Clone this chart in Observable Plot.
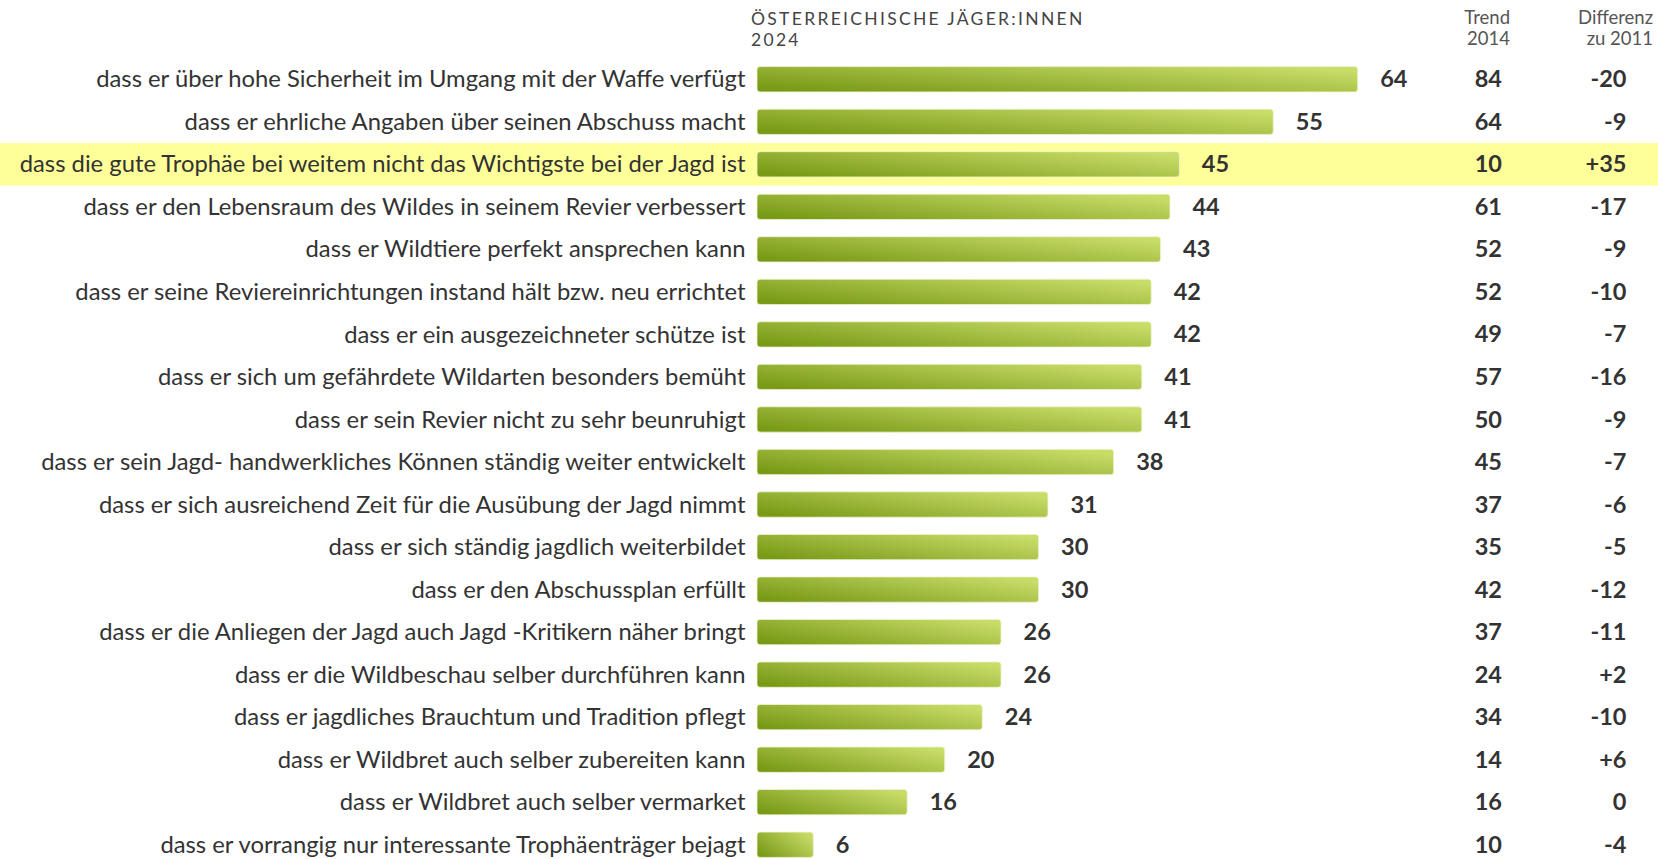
<!DOCTYPE html>
<html>
<head>
<meta charset="utf-8">
<script src="https://cdn.jsdelivr.net/npm/d3@7"></script>
<script src="https://cdn.jsdelivr.net/npm/@observablehq/plot@0.6"></script>
<style>
  html, body { margin: 0; padding: 0; background: #fff; }
  body { width: 1658px; height: 859px; overflow: hidden; position: relative; font-family: Lato, "Open Sans", sans-serif; }
  #chart { position: absolute; left: 0; top: 0; }
  .hdr { position: absolute; font-family: Lato, sans-serif; color: #555; font-size: 18.5px; line-height: 21px; white-space: nowrap; }
  #title { left: 751px; top: 7.5px; letter-spacing: 2.3px; color: #444; text-align: left; line-height: 21px; font-size: 17.5px; }
  #trend { right: 148px; top: 7px; text-align: right; }
  #diff { right: 5px; top: 7px; text-align: right; }
</style>
</head>
<body>
<div id="chart"></div>
<div class="hdr" id="title">ÖSTERREICHISCHE JÄGER:INNEN<br>2024</div>
<div class="hdr" id="trend">Trend<br>2014</div>
<div class="hdr" id="diff">Differenz<br>zu 2011</div>
<script>
const labels = [
  "dass er über hohe Sicherheit im Umgang mit der Waffe verfügt",
  "dass er ehrliche Angaben über seinen Abschuss macht",
  "dass die gute Trophäe bei weitem nicht das Wichtigste bei der Jagd ist",
  "dass er den Lebensraum des Wildes in seinem Revier verbessert",
  "dass er Wildtiere perfekt ansprechen kann",
  "dass er seine Reviereinrichtungen instand hält bzw. neu errichtet",
  "dass er ein ausgezeichneter schütze ist",
  "dass er sich um gefährdete Wildarten besonders bemüht",
  "dass er sein Revier nicht zu sehr beunruhigt",
  "dass er sein Jagd- handwerkliches Können ständig weiter entwickelt",
  "dass er sich ausreichend Zeit für die Ausübung der Jagd nimmt",
  "dass er sich ständig jagdlich weiterbildet",
  "dass er den Abschussplan erfüllt",
  "dass er die Anliegen der Jagd auch Jagd -Kritikern näher bringt",
  "dass er die Wildbeschau selber durchführen kann",
  "dass er jagdliches Brauchtum und Tradition pflegt",
  "dass er Wildbret auch selber zubereiten kann",
  "dass er Wildbret auch selber vermarket",
  "dass er vorrangig nur interessante Trophäenträger bejagt"
];
const values2024 = [64, 55, 45, 44, 43, 42, 42, 41, 41, 38, 31, 30, 30, 26, 26, 24, 20, 16, 6];
const trend2014 = [84, 64, 10, 61, 52, 52, 49, 57, 50, 45, 37, 35, 42, 37, 24, 34, 14, 16, 10];
const diff2011 = ["-20", "-9", "+35", "-17", "-9", "-10", "-7", "-16", "-9", "-7", "-6", "-5", "-12", "-11", "+2", "-10", "+6", "0", "-4"];
const highlighted = ["dass die gute Trophäe bei weitem nicht das Wichtigste bei der Jagd ist"];

const data = labels.map((label, i) => ({label, value: values2024[i], trend: trend2014[i], diff: diff2011[i]}));
const hl = data.filter(d => highlighted.includes(d.label));

const W = 1658, H = 859;
const mL = 757, mR = 32;

const defs = () => {
  const d = d3.create("svg:defs");
  const g = d.append("linearGradient").attr("id", "barGrad")
    .attr("x1", 0).attr("y1", 0.8).attr("x2", 1).attr("y2", 0.2);
  g.append("stop").attr("offset", "0%").attr("stop-color", "#799a17");
  g.append("stop").attr("offset", "100%").attr("stop-color", "#c8dc68");
  return d.node();
};

const txt = "#333333";
const chart = Plot.plot({
  width: W,
  height: H,
  marginLeft: mL,
  marginRight: mR,
  marginTop: 58,
  marginBottom: -7,
  style: {fontFamily: "Lato, sans-serif", fontSize: "23px", background: "transparent"},
  x: {domain: [0, 64], range: [mL, 1357.7], axis: null},
  y: {domain: labels, padding: 0, round: false, axis: null},
  marks: [
    defs,
    Plot.cell(hl, {y: "label", fill: "#ffff9a", insetLeft: -mL, insetRight: -mR}),
    Plot.axisY({tickSize: 0, tickPadding: 12, fontSize: 23.8, color: txt, label: null}),
    Plot.barX(data, {y: "label", x: "value", fill: "url(#barGrad)", insetTop: 8.6, insetBottom: 8.6, rx: 3,
      stroke: "#eef5cf", strokeWidth: 0.8}),
    Plot.text(data, {y: "label", x: "value", text: d => String(d.value), textAnchor: "start", dx: 22,
      fontWeight: "bold", fontSize: 23.5, fill: txt}),
    Plot.text(data, {y: "label", text: d => String(d.trend), frameAnchor: "right", textAnchor: "end", dx: -124.5,
      fontWeight: "bold", fontSize: 23.5, fill: txt}),
    Plot.text(data, {y: "label", text: "diff", frameAnchor: "right", textAnchor: "end",
      fontWeight: "bold", fontSize: 23.5, fill: txt})
  ]
});
document.getElementById("chart").appendChild(chart);
</script>
</body>
</html>
